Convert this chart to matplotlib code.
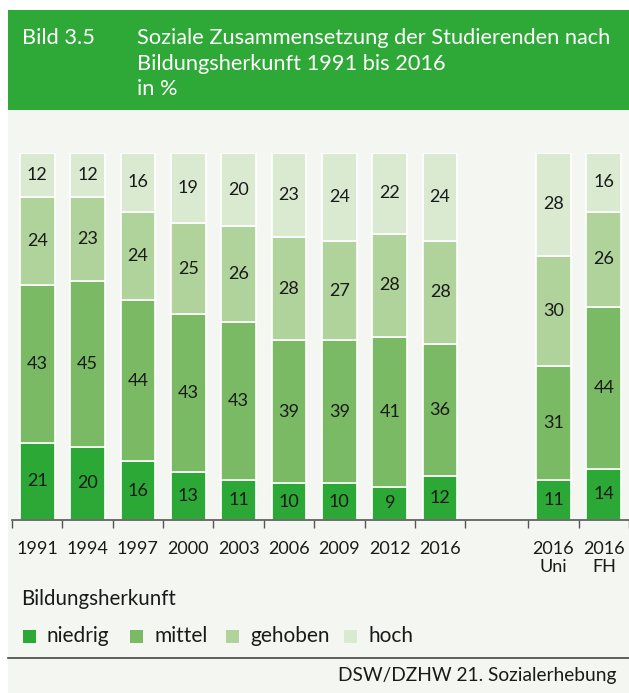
import numpy as np
import matplotlib
matplotlib.use('Agg')
import matplotlib.pyplot as plt
from matplotlib.patches import Rectangle

# data
labels = ['1991', '1994', '1997', '2000', '2003', '2006', '2009', '2012', '2016', '2016\nUni', '2016\nFH']
niedrig = [21, 20, 16, 13, 11, 10, 10, 9, 12, 11, 14]
mittel = [43, 45, 44, 43, 43, 39, 39, 41, 36, 31, 44]
gehoben = [24, 23, 24, 25, 26, 28, 27, 28, 28, 30, 26]
hoch = [12, 12, 16, 19, 20, 23, 24, 22, 24, 28, 16]
series_names = ['niedrig', 'mittel', 'gehoben', 'hoch']
colors = ['#2ca836', '#7aba64', '#afd39a', '#daead0']

plt.rcParams['font.family'] = ['Lato', 'DejaVu Sans']

W, H = 629, 693
fig = plt.figure(figsize=(W / 100, H / 100), dpi=100)
fig.patch.set_facecolor('white')

# panel background + green header
fig.patches.append(Rectangle((8 / W, 0), 1 - 8 / W, (H - 110) / H, transform=fig.transFigure,
                             facecolor='#f4f7f1', edgecolor='none', zorder=-2))
fig.patches.append(Rectangle((8 / W, (H - 110) / H), 1 - 8 / W, 100 / H, transform=fig.transFigure,
                             facecolor='#2ea836', edgecolor='none', zorder=-2))

fs_title = 15.7
fig.text(22 / W, 1 - 38 / H, 'Bild 3.5', color='white', fontsize=fs_title, va='center')
fig.text(137 / W, 1 - 38 / H, 'Soziale Zusammensetzung der Studierenden nach', color='white', fontsize=fs_title, va='center')
fig.text(137 / W, 1 - 64 / H, 'Bildungsherkunft 1991 bis 2016', color='white', fontsize=fs_title, va='center')
fig.text(137 / W, 1 - 89 / H, 'in %', color='white', fontsize=fs_title, va='center')

ax = fig.add_axes([12 / W, (H - 520) / H, 1 - 12 / W, 367 / H])
ax.set_facecolor('none')

x = np.array([0, 1, 2, 3, 4, 5, 6, 7, 8, 10.25, 11.25])
data = [niedrig, mittel, gehoben, hoch]
bottom = np.zeros(len(x))
for vals, c, name in zip(data, colors, series_names):
    vals = np.array(vals)
    ax.bar(x, vals, 0.69, bottom=bottom, color=c, edgecolor='white', linewidth=1.2, label=name)
    for xi, b, v in zip(x, bottom, vals):
        ax.text(xi, b + v / 2, str(v), ha='center', va='center', fontsize=13, color='#1a1a1a')
    bottom += vals

ax.set_xlim(-0.5, 11.75)
ax.set_ylim(0, 100)
for s in ['top', 'right', 'left']:
    ax.spines[s].set_visible(False)
ax.spines['bottom'].set_color('#555555')
ax.spines['bottom'].set_linewidth(1.2)
ax.set_yticks([])

ticks = [i - 0.5 for i in range(10)] + [9.75, 10.75, 11.75]
ax.set_xticks(ticks)
ax.set_xticklabels([])
ax.tick_params(axis='x', length=6, color='#555555', width=1)
ax.set_xticks(x, minor=True)
ax.set_xticklabels(labels, minor=True, fontsize=13, color='#1a1a1a', va='top', linespacing=1.15)
ax.tick_params(axis='x', which='minor', length=0, pad=15)

fig.text(21 / W, 1 - 599 / H, 'Bildungsherkunft', fontsize=14.8, color='#1a1a1a', va='center')

# legend
legend_x = [23, 130, 226, 344]
for lx, name, c in zip(legend_x, series_names, colors):
    fig.patches.append(Rectangle((lx / W, 1 - 643 / H), 13 / W, 13 / H, transform=fig.transFigure,
                                 facecolor=c, edgecolor='none'))
    fig.text((lx + 24) / W, 1 - 636 / H, name, fontsize=15, color='#1a1a1a', va='center')

fig.add_artist(plt.Line2D([8 / W, 1], [1 - 658 / H, 1 - 658 / H], color='#444444', linewidth=1.2,
                          transform=fig.transFigure))
fig.text(616 / W, 1 - 675 / H, 'DSW/DZHW 21. Sozialerhebung', fontsize=13.8, color='#1a1a1a',
         ha='right', va='center')

fig.savefig('out.png', dpi=100)
